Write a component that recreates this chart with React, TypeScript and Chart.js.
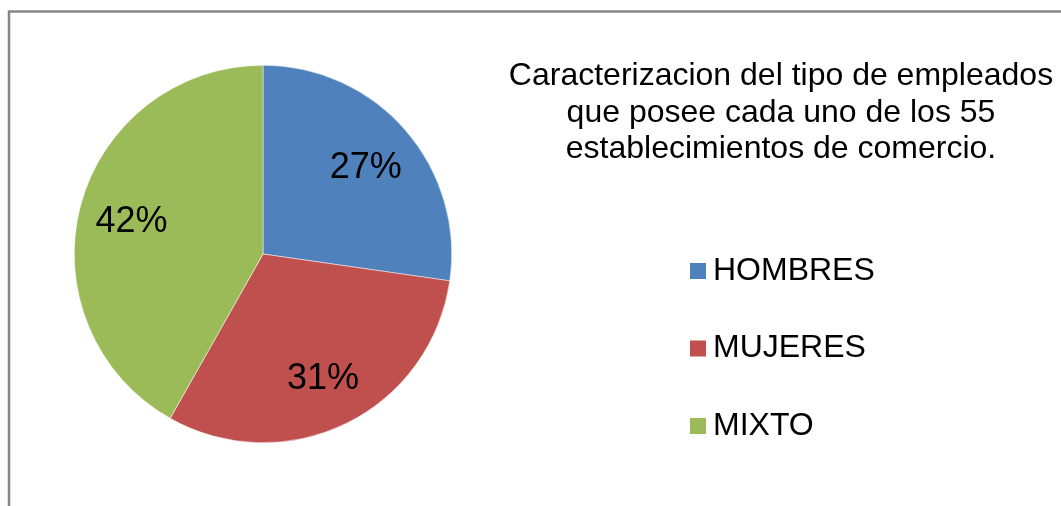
import React, { useEffect, useRef } from "react";
import { Chart, registerables } from "chart.js";

Chart.register(...registerables);

const CATEGORIES = ["HOMBRES", "MUJERES", "MIXTO"];
const COUNTS = [15, 17, 23];
const COLORS = ["#4F81BD", "#C0504D", "#9BBB59"];
const TITLE_LINES = [
  "Caracterizacion del tipo de empleados",
  "que posee cada uno de los 55",
  "establecimientos de comercio.",
];

const FONT = "'Liberation Sans', Arial, sans-serif";

const framePlugin = {
  id: "frame",
  beforeDraw(chart: any) {
    const ctx = chart.ctx;
    ctx.save();
    ctx.fillStyle = "#ffffff";
    ctx.fillRect(0, 0, chart.width, chart.height);
    ctx.strokeStyle = "#868686";
    ctx.lineWidth = 2.5;
    ctx.strokeRect(9, 11.5, chart.width + 20, chart.height + 20);
    ctx.restore();
  },
};

const decorPlugin = {
  id: "decor",
  afterDraw(chart: any) {
    const ctx = chart.ctx;
    const meta = chart.getDatasetMeta(0);
    const data = chart.data.datasets[0].data as number[];
    const total = data.reduce((a, b) => a + b, 0);
    ctx.save();
    // data labels
    ctx.fillStyle = "#000000";
    ctx.font = `36px ${FONT}`;
    ctx.textAlign = "center";
    ctx.textBaseline = "middle";
    meta.data.forEach((arc: any, i: number) => {
      const p = arc.getProps(["x", "y", "startAngle", "endAngle", "outerRadius"], true);
      const mid = (p.startAngle + p.endAngle) / 2;
      const r = p.outerRadius * 0.72;
      const pct = Math.round((data[i] / total) * 100) + "%";
      ctx.fillText(pct, p.x + Math.cos(mid) * r, p.y + Math.sin(mid) * r + 3);
    });
    // title
    ctx.font = `32px ${FONT}`;
    ctx.textBaseline = "alphabetic";
    const tx = 781;
    TITLE_LINES.forEach((line, i) => {
      ctx.fillText(line, tx, 85 + i * 36.5);
    });
    // legend
    ctx.font = `32px ${FONT}`;
    ctx.textAlign = "left";
    ctx.textBaseline = "middle";
    chart.data.labels.forEach((lab: string, i: number) => {
      const cy = 271 + i * 77.5;
      ctx.fillStyle = COLORS[i];
      ctx.fillRect(690, cy - 8, 16, 16);
      ctx.fillStyle = "#000000";
      ctx.fillText(lab, 713, cy);
    });
    ctx.restore();
  },
};

export default function App() {
  const ref = useRef<HTMLCanvasElement>(null);
  useEffect(() => {
    if (!ref.current) return;
    const chart = new Chart(ref.current, {
      type: "pie",
      data: {
        labels: CATEGORIES,
        datasets: [
          {
            data: COUNTS,
            backgroundColor: COLORS,
            borderColor: "#ffffff",
            borderWidth: 0.5,
          },
        ],
      },
      options: {
        animation: false,
        responsive: false,
        devicePixelRatio: 1,
        layout: { padding: { left: 74, top: 65, right: 609, bottom: 63 } },
        plugins: {
          legend: { display: false },
          tooltip: { enabled: false },
          title: { display: false },
        },
      },
      plugins: [framePlugin, decorPlugin],
    });
    return () => chart.destroy();
  }, []);
  return (
    <div style={{ position: "fixed", left: 0, top: 0, width: 1061, height: 506 }}>
      <canvas ref={ref} width={1061} height={506} style={{ display: "block" }} />
    </div>
  );
}
